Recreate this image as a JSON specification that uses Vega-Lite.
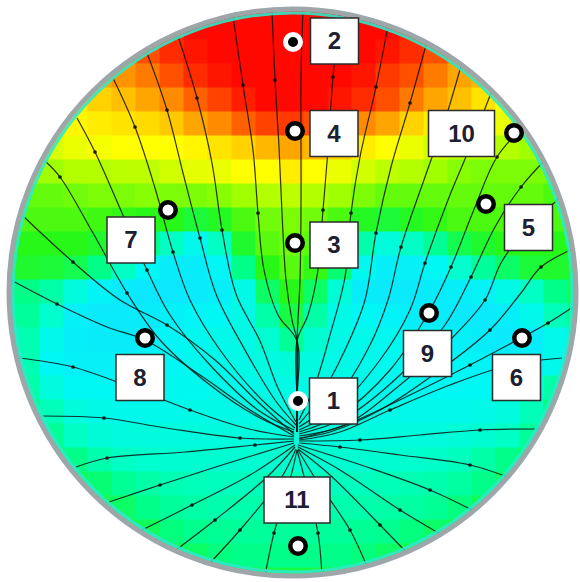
{
"$schema":"https://vega.github.io/schema/vega-lite/v6.json",
"width":580,"height":582,
"autosize":{"type":"none"},
"padding":0,
"background":"white",
"config":{"view":{"stroke":null}},
"datasets":{
"cells":[
{"x":220,"y":4,"v":9},{"x":244,"y":4,"v":9},{"x":268,"y":4,"v":9},{"x":292,"y":4,"v":9},{"x":316,"y":4,"v":9},{"x":340,"y":4,"v":9},{"x":364,"y":4,"v":9},
{"x":148,"y":28,"v":8},{"x":172,"y":28,"v":8.5},{"x":196,"y":28,"v":9},{"x":220,"y":28,"v":9},{"x":244,"y":28,"v":9},{"x":268,"y":28,"v":9},{"x":292,"y":28,"v":9},{"x":316,"y":28,"v":9},{"x":340,"y":28,"v":9},{"x":364,"y":28,"v":9},{"x":388,"y":28,"v":9},{"x":412,"y":28,"v":8.7},{"x":436,"y":28,"v":8.3},
{"x":124,"y":52,"v":7.5},{"x":148,"y":52,"v":8},{"x":172,"y":52,"v":8.5},{"x":196,"y":52,"v":8.8},{"x":220,"y":52,"v":9},{"x":244,"y":52,"v":9},{"x":268,"y":52,"v":9},{"x":292,"y":52,"v":9},{"x":316,"y":52,"v":9},{"x":340,"y":52,"v":9},{"x":364,"y":52,"v":9},{"x":388,"y":52,"v":8.8},{"x":412,"y":52,"v":8.5},{"x":436,"y":52,"v":8},{"x":460,"y":52,"v":7.5},
{"x":100,"y":76,"v":7},{"x":124,"y":76,"v":7.2},{"x":148,"y":76,"v":7.5},{"x":172,"y":76,"v":8},{"x":196,"y":76,"v":8.5},{"x":220,"y":76,"v":8.8},{"x":244,"y":76,"v":9},{"x":268,"y":76,"v":9},{"x":292,"y":76,"v":9},{"x":316,"y":76,"v":9},{"x":340,"y":76,"v":9},{"x":364,"y":76,"v":8.8},{"x":388,"y":76,"v":8.3},{"x":412,"y":76,"v":8},{"x":436,"y":76,"v":7.5},{"x":460,"y":76,"v":7},{"x":484,"y":76,"v":6.8},
{"x":76,"y":100,"v":6.2},{"x":100,"y":100,"v":6.5},{"x":124,"y":100,"v":6.7},{"x":148,"y":100,"v":7},{"x":172,"y":100,"v":7.3},{"x":196,"y":100,"v":7.8},{"x":220,"y":100,"v":8.2},{"x":244,"y":100,"v":8.7},{"x":268,"y":100,"v":9},{"x":292,"y":100,"v":9},{"x":316,"y":100,"v":9},{"x":340,"y":100,"v":8.8},{"x":364,"y":100,"v":8.5},{"x":388,"y":100,"v":8},{"x":412,"y":100,"v":7.5},{"x":436,"y":100,"v":7},{"x":460,"y":100,"v":6.7},{"x":484,"y":100,"v":6.3},{"x":508,"y":100,"v":6},
{"x":52,"y":124,"v":5.8},{"x":76,"y":124,"v":6.1},{"x":100,"y":124,"v":6.2},{"x":124,"y":124,"v":6.3},{"x":148,"y":124,"v":6.4},{"x":172,"y":124,"v":6.6},{"x":196,"y":124,"v":7},{"x":220,"y":124,"v":7.3},{"x":244,"y":124,"v":7.8},{"x":268,"y":124,"v":8.2},{"x":292,"y":124,"v":8.3},{"x":316,"y":124,"v":8},{"x":340,"y":124,"v":7.8},{"x":364,"y":124,"v":7.3},{"x":388,"y":124,"v":7},{"x":412,"y":124,"v":6.5},{"x":436,"y":124,"v":6.2},{"x":460,"y":124,"v":6},{"x":484,"y":124,"v":6},{"x":508,"y":124,"v":5.8},{"x":532,"y":124,"v":5.6},
{"x":28,"y":148,"v":5.2},{"x":52,"y":148,"v":5.6},{"x":76,"y":148,"v":5.8},{"x":100,"y":148,"v":5.9},{"x":124,"y":148,"v":6},{"x":148,"y":148,"v":6},{"x":172,"y":148,"v":6},{"x":196,"y":148,"v":6.1},{"x":220,"y":148,"v":6.3},{"x":244,"y":148,"v":6.5},{"x":268,"y":148,"v":6.8},{"x":292,"y":148,"v":7},{"x":316,"y":148,"v":6.8},{"x":340,"y":148,"v":6.5},{"x":364,"y":148,"v":6.2},{"x":388,"y":148,"v":6},{"x":412,"y":148,"v":5.8},{"x":436,"y":148,"v":5.5},{"x":460,"y":148,"v":5.3},{"x":484,"y":148,"v":5.3},{"x":508,"y":148,"v":5.2},{"x":532,"y":148,"v":5},{"x":556,"y":148,"v":5},
{"x":28,"y":172,"v":5},{"x":52,"y":172,"v":5},{"x":76,"y":172,"v":5.2},{"x":100,"y":172,"v":5.2},{"x":124,"y":172,"v":5.3},{"x":148,"y":172,"v":5.3},{"x":172,"y":172,"v":5.5},{"x":196,"y":172,"v":5.7},{"x":220,"y":172,"v":5.8},{"x":244,"y":172,"v":6},{"x":268,"y":172,"v":6},{"x":292,"y":172,"v":6.2},{"x":316,"y":172,"v":6},{"x":340,"y":172,"v":5.8},{"x":364,"y":172,"v":5.5},{"x":388,"y":172,"v":5.3},{"x":412,"y":172,"v":5.2},{"x":436,"y":172,"v":5},{"x":460,"y":172,"v":4.8},{"x":484,"y":172,"v":4.7},{"x":508,"y":172,"v":4.7},{"x":532,"y":172,"v":4.7},{"x":556,"y":172,"v":4.7},
{"x":28,"y":196,"v":4.5},{"x":52,"y":196,"v":4.5},{"x":76,"y":196,"v":4.6},{"x":100,"y":196,"v":4.7},{"x":124,"y":196,"v":4.7},{"x":148,"y":196,"v":4.8},{"x":172,"y":196,"v":4.7},{"x":196,"y":196,"v":4.7},{"x":220,"y":196,"v":4.8},{"x":244,"y":196,"v":5},{"x":268,"y":196,"v":5.2},{"x":292,"y":196,"v":5.3},{"x":316,"y":196,"v":5.2},{"x":340,"y":196,"v":5},{"x":364,"y":196,"v":4.7},{"x":388,"y":196,"v":4.5},{"x":412,"y":196,"v":4.5},{"x":436,"y":196,"v":4.5},{"x":460,"y":196,"v":4.5},{"x":484,"y":196,"v":4.5},{"x":508,"y":196,"v":4.5},{"x":532,"y":196,"v":4.5},{"x":556,"y":196,"v":4.3},
{"x":4,"y":220,"v":4.3},{"x":28,"y":220,"v":4.3},{"x":52,"y":220,"v":4.3},{"x":76,"y":220,"v":4.3},{"x":100,"y":220,"v":4.2},{"x":124,"y":220,"v":4.1},{"x":148,"y":220,"v":4},{"x":172,"y":220,"v":4},{"x":196,"y":220,"v":3.7},{"x":220,"y":220,"v":3.9},{"x":244,"y":220,"v":4.3},{"x":268,"y":220,"v":4.6},{"x":292,"y":220,"v":4.7},{"x":316,"y":220,"v":4.6},{"x":340,"y":220,"v":4.3},{"x":364,"y":220,"v":3.9},{"x":388,"y":220,"v":3.7},{"x":412,"y":220,"v":3.9},{"x":436,"y":220,"v":4.1},{"x":460,"y":220,"v":4.3},{"x":484,"y":220,"v":4.3},{"x":508,"y":220,"v":4.3},{"x":532,"y":220,"v":4.3},{"x":556,"y":220,"v":4.3},{"x":580,"y":220,"v":4.3},
{"x":4,"y":244,"v":4},{"x":28,"y":244,"v":4},{"x":52,"y":244,"v":4},{"x":76,"y":244,"v":4},{"x":100,"y":244,"v":3.8},{"x":124,"y":244,"v":3.5},{"x":148,"y":244,"v":3},{"x":172,"y":244,"v":2},{"x":196,"y":244,"v":1.2},{"x":220,"y":244,"v":2},{"x":244,"y":244,"v":3.8},{"x":268,"y":244,"v":4.4},{"x":292,"y":244,"v":4.6},{"x":316,"y":244,"v":4.4},{"x":340,"y":244,"v":3.8},{"x":364,"y":244,"v":2.4},{"x":388,"y":244,"v":1.5},{"x":412,"y":244,"v":2},{"x":436,"y":244,"v":2.8},{"x":460,"y":244,"v":3.5},{"x":484,"y":244,"v":3.8},{"x":508,"y":244,"v":4},{"x":532,"y":244,"v":4},{"x":556,"y":244,"v":4},{"x":580,"y":244,"v":4},
{"x":4,"y":268,"v":3.8},{"x":28,"y":268,"v":3.8},{"x":52,"y":268,"v":3.7},{"x":76,"y":268,"v":3.5},{"x":100,"y":268,"v":3},{"x":124,"y":268,"v":2},{"x":148,"y":268,"v":1},{"x":172,"y":268,"v":0.5},{"x":196,"y":268,"v":0.5},{"x":220,"y":268,"v":0.9},{"x":244,"y":268,"v":3},{"x":268,"y":268,"v":4},{"x":292,"y":268,"v":4.4},{"x":316,"y":268,"v":4.1},{"x":340,"y":268,"v":3.2},{"x":364,"y":268,"v":1.1},{"x":388,"y":268,"v":0.6},{"x":412,"y":268,"v":0.7},{"x":436,"y":268,"v":1},{"x":460,"y":268,"v":1.8},{"x":484,"y":268,"v":2.7},{"x":508,"y":268,"v":3.3},{"x":532,"y":268,"v":3.7},{"x":556,"y":268,"v":3.8},{"x":580,"y":268,"v":3.8},
{"x":4,"y":292,"v":3.2},{"x":28,"y":292,"v":3},{"x":52,"y":292,"v":2.5},{"x":76,"y":292,"v":1.5},{"x":100,"y":292,"v":0.8},{"x":124,"y":292,"v":0.5},{"x":148,"y":292,"v":0.3},{"x":172,"y":292,"v":0.3},{"x":196,"y":292,"v":0.4},{"x":220,"y":292,"v":0.6},{"x":244,"y":292,"v":1.3},{"x":268,"y":292,"v":3.3},{"x":292,"y":292,"v":4},{"x":316,"y":292,"v":3.3},{"x":340,"y":292,"v":1.6},{"x":364,"y":292,"v":0.5},{"x":388,"y":292,"v":0.4},{"x":412,"y":292,"v":0.4},{"x":436,"y":292,"v":0.5},{"x":460,"y":292,"v":0.6},{"x":484,"y":292,"v":0.8},{"x":508,"y":292,"v":1.3},{"x":532,"y":292,"v":2},{"x":556,"y":292,"v":3},{"x":580,"y":292,"v":3.5},
{"x":4,"y":316,"v":3},{"x":28,"y":316,"v":2.7},{"x":52,"y":316,"v":1.8},{"x":76,"y":316,"v":0.7},{"x":100,"y":316,"v":0.4},{"x":124,"y":316,"v":0.4},{"x":148,"y":316,"v":0.5},{"x":172,"y":316,"v":0.7},{"x":196,"y":316,"v":0.9},{"x":220,"y":316,"v":1},{"x":244,"y":316,"v":1.3},{"x":268,"y":316,"v":2.5},{"x":292,"y":316,"v":3.6},{"x":316,"y":316,"v":2.5},{"x":340,"y":316,"v":1.3},{"x":364,"y":316,"v":1},{"x":388,"y":316,"v":0.8},{"x":412,"y":316,"v":0.6},{"x":436,"y":316,"v":0.5},{"x":460,"y":316,"v":0.4},{"x":484,"y":316,"v":0.4},{"x":508,"y":316,"v":0.6},{"x":532,"y":316,"v":1.2},{"x":556,"y":316,"v":2.2},{"x":580,"y":316,"v":3},
{"x":4,"y":340,"v":2.8},{"x":28,"y":340,"v":2.3},{"x":52,"y":340,"v":1.2},{"x":76,"y":340,"v":0.6},{"x":100,"y":340,"v":0.5},{"x":124,"y":340,"v":0.5},{"x":148,"y":340,"v":0.7},{"x":172,"y":340,"v":0.9},{"x":196,"y":340,"v":1.1},{"x":220,"y":340,"v":1.2},{"x":244,"y":340,"v":1.3},{"x":268,"y":340,"v":1.7},{"x":292,"y":340,"v":2.8},{"x":316,"y":340,"v":1.7},{"x":340,"y":340,"v":1.3},{"x":364,"y":340,"v":1.2},{"x":388,"y":340,"v":1.1},{"x":412,"y":340,"v":1},{"x":436,"y":340,"v":0.9},{"x":460,"y":340,"v":0.7},{"x":484,"y":340,"v":0.5},{"x":508,"y":340,"v":0.4},{"x":532,"y":340,"v":0.5},{"x":556,"y":340,"v":1.2},{"x":580,"y":340,"v":2.5},
{"x":4,"y":364,"v":2.5},{"x":28,"y":364,"v":2.3},{"x":52,"y":364,"v":1},{"x":76,"y":364,"v":0.7},{"x":100,"y":364,"v":0.7},{"x":124,"y":364,"v":0.8},{"x":148,"y":364,"v":0.9},{"x":172,"y":364,"v":1},{"x":196,"y":364,"v":1.1},{"x":220,"y":364,"v":1.2},{"x":244,"y":364,"v":1.3},{"x":268,"y":364,"v":1.4},{"x":292,"y":364,"v":1.6},{"x":316,"y":364,"v":1.4},{"x":340,"y":364,"v":1.3},{"x":364,"y":364,"v":1.2},{"x":388,"y":364,"v":1.1},{"x":412,"y":364,"v":1},{"x":436,"y":364,"v":1},{"x":460,"y":364,"v":0.9},{"x":484,"y":364,"v":0.8},{"x":508,"y":364,"v":0.7},{"x":532,"y":364,"v":0.7},{"x":556,"y":364,"v":1.2},{"x":580,"y":364,"v":2.3},
{"x":28,"y":388,"v":2.5},{"x":52,"y":388,"v":1.5},{"x":76,"y":388,"v":1},{"x":100,"y":388,"v":1},{"x":124,"y":388,"v":1},{"x":148,"y":388,"v":1},{"x":172,"y":388,"v":1.1},{"x":196,"y":388,"v":1.1},{"x":220,"y":388,"v":1.2},{"x":244,"y":388,"v":1.2},{"x":268,"y":388,"v":1.3},{"x":292,"y":388,"v":1.3},{"x":316,"y":388,"v":1.3},{"x":340,"y":388,"v":1.2},{"x":364,"y":388,"v":1.2},{"x":388,"y":388,"v":1.1},{"x":412,"y":388,"v":1.1},{"x":436,"y":388,"v":1},{"x":460,"y":388,"v":1},{"x":484,"y":388,"v":1},{"x":508,"y":388,"v":1},{"x":532,"y":388,"v":1.5},{"x":556,"y":388,"v":2.5},
{"x":28,"y":412,"v":3},{"x":52,"y":412,"v":2.2},{"x":76,"y":412,"v":1.5},{"x":100,"y":412,"v":1.3},{"x":124,"y":412,"v":1.2},{"x":148,"y":412,"v":1.2},{"x":172,"y":412,"v":1.2},{"x":196,"y":412,"v":1.3},{"x":220,"y":412,"v":1.3},{"x":244,"y":412,"v":1.3},{"x":268,"y":412,"v":1.4},{"x":292,"y":412,"v":1.4},{"x":316,"y":412,"v":1.4},{"x":340,"y":412,"v":1.3},{"x":364,"y":412,"v":1.3},{"x":388,"y":412,"v":1.3},{"x":412,"y":412,"v":1.2},{"x":436,"y":412,"v":1.2},{"x":460,"y":412,"v":1.2},{"x":484,"y":412,"v":1.3},{"x":508,"y":412,"v":1.5},{"x":532,"y":412,"v":2.2},{"x":556,"y":412,"v":3},
{"x":28,"y":436,"v":3.2},{"x":52,"y":436,"v":2.8},{"x":76,"y":436,"v":2},{"x":100,"y":436,"v":1.6},{"x":124,"y":436,"v":1.5},{"x":148,"y":436,"v":1.5},{"x":172,"y":436,"v":1.5},{"x":196,"y":436,"v":1.5},{"x":220,"y":436,"v":1.5},{"x":244,"y":436,"v":1.5},{"x":268,"y":436,"v":1.5},{"x":292,"y":436,"v":1.5},{"x":316,"y":436,"v":1.5},{"x":340,"y":436,"v":1.5},{"x":364,"y":436,"v":1.5},{"x":388,"y":436,"v":1.5},{"x":412,"y":436,"v":1.5},{"x":436,"y":436,"v":1.5},{"x":460,"y":436,"v":1.6},{"x":484,"y":436,"v":1.7},{"x":508,"y":436,"v":2},{"x":532,"y":436,"v":2.7},{"x":556,"y":436,"v":3.2},
{"x":52,"y":460,"v":3.3},{"x":76,"y":460,"v":3},{"x":100,"y":460,"v":2.4},{"x":124,"y":460,"v":2},{"x":148,"y":460,"v":1.8},{"x":172,"y":460,"v":1.7},{"x":196,"y":460,"v":1.7},{"x":220,"y":460,"v":1.7},{"x":244,"y":460,"v":1.7},{"x":268,"y":460,"v":1.7},{"x":292,"y":460,"v":1.7},{"x":316,"y":460,"v":1.7},{"x":340,"y":460,"v":1.7},{"x":364,"y":460,"v":1.7},{"x":388,"y":460,"v":1.7},{"x":412,"y":460,"v":1.8},{"x":436,"y":460,"v":1.9},{"x":460,"y":460,"v":2.1},{"x":484,"y":460,"v":2.5},{"x":508,"y":460,"v":3},{"x":532,"y":460,"v":3.3},
{"x":76,"y":484,"v":3.4},{"x":100,"y":484,"v":3.2},{"x":124,"y":484,"v":2.8},{"x":148,"y":484,"v":2.5},{"x":172,"y":484,"v":2.3},{"x":196,"y":484,"v":2.2},{"x":220,"y":484,"v":2.1},{"x":244,"y":484,"v":2.1},{"x":268,"y":484,"v":2.1},{"x":292,"y":484,"v":2.1},{"x":316,"y":484,"v":2.1},{"x":340,"y":484,"v":2.1},{"x":364,"y":484,"v":2.1},{"x":388,"y":484,"v":2.2},{"x":412,"y":484,"v":2.3},{"x":436,"y":484,"v":2.4},{"x":460,"y":484,"v":2.6},{"x":484,"y":484,"v":3},{"x":508,"y":484,"v":3.3},
{"x":100,"y":508,"v":3.5},{"x":124,"y":508,"v":3.3},{"x":148,"y":508,"v":3},{"x":172,"y":508,"v":2.7},{"x":196,"y":508,"v":2.5},{"x":220,"y":508,"v":2.4},{"x":244,"y":508,"v":2.4},{"x":268,"y":508,"v":2.4},{"x":292,"y":508,"v":2.4},{"x":316,"y":508,"v":2.4},{"x":340,"y":508,"v":2.4},{"x":364,"y":508,"v":2.4},{"x":388,"y":508,"v":2.5},{"x":412,"y":508,"v":2.6},{"x":436,"y":508,"v":2.8},{"x":460,"y":508,"v":3.1},{"x":484,"y":508,"v":3.4},
{"x":124,"y":532,"v":3.6},{"x":148,"y":532,"v":3.4},{"x":172,"y":532,"v":3.1},{"x":196,"y":532,"v":2.9},{"x":220,"y":532,"v":2.8},{"x":244,"y":532,"v":2.7},{"x":268,"y":532,"v":2.7},{"x":292,"y":532,"v":2.7},{"x":316,"y":532,"v":2.7},{"x":340,"y":532,"v":2.7},{"x":364,"y":532,"v":2.8},{"x":388,"y":532,"v":2.9},{"x":412,"y":532,"v":3.1},{"x":436,"y":532,"v":3.3},{"x":460,"y":532,"v":3.6},
{"x":148,"y":556,"v":3.8},{"x":172,"y":556,"v":3.5},{"x":196,"y":556,"v":3.3},{"x":220,"y":556,"v":3.1},{"x":244,"y":556,"v":3},{"x":268,"y":556,"v":3},{"x":292,"y":556,"v":3},{"x":316,"y":556,"v":3},{"x":340,"y":556,"v":3},{"x":364,"y":556,"v":3.1},{"x":388,"y":556,"v":3.3},{"x":412,"y":556,"v":3.5},{"x":436,"y":556,"v":3.8},
{"x":220,"y":580,"v":3.6},{"x":244,"y":580,"v":3.6},{"x":268,"y":580,"v":3.6},{"x":292,"y":580,"v":3.6},{"x":316,"y":580,"v":3.6},{"x":340,"y":580,"v":3.6},{"x":364,"y":580,"v":3.6}
],
"lines":[
{"s":"K1","i":0,"x":272,"y":10},{"s":"K1","i":1,"x":275,"y":80},{"s":"K1","i":2,"x":279,"y":147},{"s":"K1","i":3,"x":282,"y":213},{"s":"K1","i":4,"x":286,"y":280},{"s":"K1","i":5,"x":292,"y":320},{"s":"K1","i":6,"x":297,"y":341},{"s":"K1","i":7,"x":297,"y":400},{"s":"K1","i":8,"x":297,"y":432},
{"s":"K2","i":0,"x":233,"y":16},{"s":"K2","i":1,"x":243,"y":85},{"s":"K2","i":2,"x":253,"y":150},{"s":"K2","i":3,"x":258,"y":213},{"s":"K2","i":4,"x":264,"y":270},{"s":"K2","i":5,"x":278,"y":315},{"s":"K2","i":6,"x":297,"y":341},{"s":"K2","i":7,"x":297,"y":400},{"s":"K2","i":8,"x":297,"y":432},
{"s":"K3","i":0,"x":303,"y":9},{"s":"K3","i":1,"x":301,"y":77},{"s":"K3","i":2,"x":301,"y":150},{"s":"K3","i":3,"x":301,"y":210},{"s":"K3","i":4,"x":300,"y":280},{"s":"K3","i":5,"x":298,"y":320},{"s":"K3","i":6,"x":297,"y":341},{"s":"K3","i":7,"x":297,"y":400},{"s":"K3","i":8,"x":297,"y":432},
{"s":"K4","i":0,"x":340,"y":13},{"s":"K4","i":1,"x":333,"y":77},{"s":"K4","i":2,"x":328,"y":150},{"s":"K4","i":3,"x":323,"y":210},{"s":"K4","i":4,"x":318,"y":270},{"s":"K4","i":5,"x":308,"y":315},{"s":"K4","i":6,"x":297,"y":341},{"s":"K4","i":7,"x":297,"y":400},{"s":"K4","i":8,"x":297,"y":432},
{"s":"L3","i":0,"x":178,"y":36},{"s":"L3","i":1,"x":197,"y":98},{"s":"L3","i":2,"x":212,"y":163},{"s":"L3","i":3,"x":222,"y":230},{"s":"L3","i":4,"x":236,"y":294},{"s":"L3","i":5,"x":260,"y":341},{"s":"L3","i":6,"x":278,"y":388},{"s":"L3","i":7,"x":296,"y":422},
{"s":"L4","i":0,"x":147,"y":53},{"s":"L4","i":1,"x":167,"y":110},{"s":"L4","i":2,"x":183,"y":173},{"s":"L4","i":3,"x":200,"y":238},{"s":"L4","i":4,"x":216,"y":294},{"s":"L4","i":5,"x":245,"y":350},{"s":"L4","i":6,"x":275,"y":400},{"s":"L4","i":7,"x":296,"y":425},
{"s":"L5","i":0,"x":113,"y":78},{"s":"L5","i":1,"x":135,"y":127},{"s":"L5","i":2,"x":155,"y":188},{"s":"L5","i":3,"x":173,"y":252},{"s":"L5","i":4,"x":190,"y":300},{"s":"L5","i":5,"x":220,"y":350},{"s":"L5","i":6,"x":262,"y":400},{"s":"L5","i":7,"x":295,"y":428},
{"s":"L6","i":0,"x":77,"y":118},{"s":"L6","i":1,"x":95,"y":152},{"s":"L6","i":2,"x":122,"y":213},{"s":"L6","i":3,"x":147,"y":270},{"s":"L6","i":4,"x":170,"y":315},{"s":"L6","i":5,"x":210,"y":365},{"s":"L6","i":6,"x":258,"y":410},{"s":"L6","i":7,"x":294,"y":430},
{"s":"L7","i":0,"x":45,"y":161},{"s":"L7","i":1,"x":60,"y":177},{"s":"L7","i":2,"x":93,"y":233},{"s":"L7","i":3,"x":127,"y":293},{"s":"L7","i":4,"x":160,"y":340},{"s":"L7","i":5,"x":210,"y":385},{"s":"L7","i":6,"x":260,"y":418},{"s":"L7","i":7,"x":294,"y":432},
{"s":"L8","i":0,"x":23,"y":216},{"s":"L8","i":1,"x":73,"y":262},{"s":"L8","i":2,"x":120,"y":300},{"s":"L8","i":3,"x":167,"y":325},{"s":"L8","i":4,"x":215,"y":360},{"s":"L8","i":5,"x":258,"y":402},{"s":"L8","i":6,"x":294,"y":434},
{"s":"L9","i":0,"x":11,"y":280},{"s":"L9","i":1,"x":57,"y":304},{"s":"L9","i":2,"x":107,"y":327},{"s":"L9","i":3,"x":145,"y":340},{"s":"L9","i":4,"x":200,"y":375},{"s":"L9","i":5,"x":250,"y":410},{"s":"L9","i":6,"x":294,"y":436},
{"s":"La","i":0,"x":19,"y":358},{"s":"La","i":1,"x":73,"y":367},{"s":"La","i":2,"x":133,"y":388},{"s":"La","i":3,"x":190,"y":410},{"s":"La","i":4,"x":245,"y":428},{"s":"La","i":5,"x":294,"y":437},
{"s":"Lb","i":0,"x":42,"y":416},{"s":"Lb","i":1,"x":104,"y":418},{"s":"Lb","i":2,"x":166,"y":428},{"s":"Lb","i":3,"x":240,"y":438},{"s":"Lb","i":4,"x":294,"y":439},
{"s":"Lc","i":0,"x":76,"y":467},{"s":"Lc","i":1,"x":107,"y":458},{"s":"Lc","i":2,"x":185,"y":452},{"s":"Lc","i":3,"x":255,"y":445},{"s":"Lc","i":4,"x":294,"y":441},
{"s":"Ld","i":0,"x":109,"y":502},{"s":"Ld","i":1,"x":160,"y":485},{"s":"Ld","i":2,"x":222,"y":465},{"s":"Ld","i":3,"x":294,"y":443},
{"s":"Le","i":0,"x":142,"y":530},{"s":"Le","i":1,"x":192,"y":505},{"s":"Le","i":2,"x":250,"y":475},{"s":"Le","i":3,"x":295,"y":445},
{"s":"Lf","i":0,"x":176,"y":550},{"s":"Lf","i":1,"x":215,"y":520},{"s":"Lf","i":2,"x":266,"y":478},{"s":"Lf","i":3,"x":295,"y":447},
{"s":"Lg","i":0,"x":209,"y":564},{"s":"Lg","i":1,"x":240,"y":530},{"s":"Lg","i":2,"x":280,"y":480},{"s":"Lg","i":3,"x":296,"y":449},
{"s":"Lh","i":0,"x":265,"y":576},{"s":"Lh","i":1,"x":274,"y":533},{"s":"Lh","i":2,"x":290,"y":480},{"s":"Lh","i":3,"x":297,"y":450},
{"s":"R3","i":0,"x":388,"y":26},{"s":"R3","i":1,"x":376,"y":87},{"s":"R3","i":2,"x":360,"y":157},{"s":"R3","i":3,"x":351,"y":213},{"s":"R3","i":4,"x":345,"y":277},{"s":"R3","i":5,"x":330,"y":335},{"s":"R3","i":6,"x":315,"y":385},{"s":"R3","i":7,"x":299,"y":420},
{"s":"R4","i":0,"x":426,"y":45},{"s":"R4","i":1,"x":410,"y":103},{"s":"R4","i":2,"x":391,"y":167},{"s":"R4","i":3,"x":376,"y":233},{"s":"R4","i":4,"x":365,"y":300},{"s":"R4","i":5,"x":345,"y":350},{"s":"R4","i":6,"x":318,"y":400},{"s":"R4","i":7,"x":299,"y":424},
{"s":"R5","i":0,"x":461,"y":66},{"s":"R5","i":1,"x":445,"y":120},{"s":"R5","i":2,"x":425,"y":177},{"s":"R5","i":3,"x":401,"y":247},{"s":"R5","i":4,"x":388,"y":300},{"s":"R5","i":5,"x":370,"y":345},{"s":"R5","i":6,"x":335,"y":400},{"s":"R5","i":7,"x":299,"y":427},
{"s":"R6","i":0,"x":491,"y":93},{"s":"R6","i":1,"x":470,"y":147},{"s":"R6","i":2,"x":448,"y":200},{"s":"R6","i":3,"x":425,"y":263},{"s":"R6","i":4,"x":410,"y":310},{"s":"R6","i":5,"x":380,"y":360},{"s":"R6","i":6,"x":335,"y":410},{"s":"R6","i":7,"x":299,"y":430},
{"s":"R7","i":0,"x":530,"y":120},{"s":"R7","i":1,"x":497,"y":157},{"s":"R7","i":2,"x":475,"y":207},{"s":"R7","i":3,"x":451,"y":267},{"s":"R7","i":4,"x":430,"y":310},{"s":"R7","i":5,"x":390,"y":370},{"s":"R7","i":6,"x":340,"y":415},{"s":"R7","i":7,"x":299,"y":432},
{"s":"R8","i":0,"x":547,"y":158},{"s":"R8","i":1,"x":521,"y":187},{"s":"R8","i":2,"x":495,"y":227},{"s":"R8","i":3,"x":471,"y":277},{"s":"R8","i":4,"x":445,"y":325},{"s":"R8","i":5,"x":400,"y":375},{"s":"R8","i":6,"x":345,"y":418},{"s":"R8","i":7,"x":299,"y":434},
{"s":"R9","i":0,"x":560,"y":198},{"s":"R9","i":1,"x":528,"y":227},{"s":"R9","i":2,"x":501,"y":263},{"s":"R9","i":3,"x":485,"y":300},{"s":"R9","i":4,"x":450,"y":340},{"s":"R9","i":5,"x":400,"y":385},{"s":"R9","i":6,"x":345,"y":425},{"s":"R9","i":7,"x":299,"y":436},
{"s":"R10","i":0,"x":577,"y":247},{"s":"R10","i":1,"x":541,"y":267},{"s":"R10","i":2,"x":521,"y":293},{"s":"R10","i":3,"x":490,"y":330},{"s":"R10","i":4,"x":440,"y":370},{"s":"R10","i":5,"x":380,"y":410},{"s":"R10","i":6,"x":330,"y":432},{"s":"R10","i":7,"x":299,"y":438},
{"s":"Ra","i":0,"x":573,"y":307},{"s":"Ra","i":1,"x":548,"y":323},{"s":"Ra","i":2,"x":521,"y":338},{"s":"Ra","i":3,"x":470,"y":365},{"s":"Ra","i":4,"x":410,"y":395},{"s":"Ra","i":5,"x":350,"y":423},{"s":"Ra","i":6,"x":299,"y":439},
{"s":"Rb","i":0,"x":562,"y":358},{"s":"Rb","i":1,"x":510,"y":365},{"s":"Rb","i":2,"x":450,"y":385},{"s":"Rb","i":3,"x":390,"y":410},{"s":"Rb","i":4,"x":340,"y":432},{"s":"Rb","i":5,"x":299,"y":440},
{"s":"Rc","i":0,"x":546,"y":429},{"s":"Rc","i":1,"x":480,"y":430},{"s":"Rc","i":2,"x":420,"y":435},{"s":"Rc","i":3,"x":360,"y":440},{"s":"Rc","i":4,"x":299,"y":441},
{"s":"Rd","i":0,"x":513,"y":479},{"s":"Rd","i":1,"x":470,"y":465},{"s":"Rd","i":2,"x":400,"y":455},{"s":"Rd","i":3,"x":340,"y":447},{"s":"Rd","i":4,"x":299,"y":443},
{"s":"Re","i":0,"x":476,"y":512},{"s":"Re","i":1,"x":430,"y":490},{"s":"Re","i":2,"x":370,"y":468},{"s":"Re","i":3,"x":298,"y":445},
{"s":"Rf","i":0,"x":442,"y":535},{"s":"Rf","i":1,"x":400,"y":510},{"s":"Rf","i":2,"x":340,"y":470},{"s":"Rf","i":3,"x":298,"y":447},
{"s":"Rg","i":0,"x":409,"y":555},{"s":"Rg","i":1,"x":380,"y":525},{"s":"Rg","i":2,"x":330,"y":475},{"s":"Rg","i":3,"x":298,"y":449},
{"s":"Rh","i":0,"x":368,"y":569},{"s":"Rh","i":1,"x":350,"y":530},{"s":"Rh","i":2,"x":315,"y":478},{"s":"Rh","i":3,"x":298,"y":450},
{"s":"Ri","i":0,"x":322,"y":576},{"s":"Ri","i":1,"x":318,"y":533},{"s":"Ri","i":2,"x":305,"y":480},{"s":"Ri","i":3,"x":297,"y":450}
],
"pts":[
{"id":"1","x":298,"y":401,"lx":333.5,"ly":401},
{"id":"2","x":293,"y":42,"lx":334.5,"ly":41},
{"id":"3","x":295,"y":243,"lx":334,"ly":245},
{"id":"4","x":295,"y":131,"lx":334,"ly":133.5},
{"id":"5","x":486,"y":204,"lx":528.5,"ly":227.5},
{"id":"6","x":522,"y":338,"lx":516.5,"ly":377.5},
{"id":"7","x":168,"y":210,"lx":131,"ly":240},
{"id":"8","x":145,"y":338,"lx":140,"ly":377.5},
{"id":"9","x":429,"y":313,"lx":427.5,"ly":353.5},
{"id":"10","x":514,"y":133,"lx":461.5,"ly":133.5},
{"id":"11","x":298,"y":546,"lx":297,"ly":500}
],
"frame":[{"x":292.5,"y":292.5}]
},
"encoding":{
"x":{"field":"x","type":"quantitative","scale":{"domain":[0,580],"nice":false,"zero":false},"axis":null},
"y":{"field":"y","type":"quantitative","scale":{"domain":[0,582],"nice":false,"zero":false,"reverse":true},"axis":null}
},
"layer":[
{"data":{"name":"cells"},"mark":{"type":"square","size":625,"opacity":1,"strokeWidth":0},
 "encoding":{"color":{"field":"v","type":"quantitative","legend":null,
 "scale":{"domain":[0,1,2,3,4,5,6,7,8,9],"range":["#10e0ff","#00f8f4","#00ffc4","#00ff88","#28f818","#a0ff00","#ffff00","#ffa500","#ff5000","#ff0800"],"interpolate":"rgb"}}}},
{"data":{"name":"lines"},"mark":{"type":"line","interpolate":"catmull-rom","color":"#111111","strokeWidth":1.2,"opacity":0.85},
 "encoding":{"detail":{"field":"s","type":"nominal"},"order":{"field":"i","type":"quantitative"}}},
{"data":{"name":"lines"},"transform":[{"filter":"(datum.i == 1 || datum.i == 3) && abs(datum.x - 297) > 20"}],
 "mark":{"type":"point","shape":"circle","filled":true,"color":"#111111","size":14,"opacity":0.9}},
{"data":{"name":"frame"},"mark":{"type":"point","shape":"circle","filled":false,"fill":null,"stroke":"#30e8c8","strokeWidth":3,"size":312481,"opacity":1,"strokeOpacity":0.9}},
{"data":{"name":"frame"},"mark":{"type":"point","shape":"circle","filled":false,"fill":null,"stroke":"white","strokeWidth":180,"size":562500,"opacity":1,"strokeOpacity":1}},
{"data":{"name":"frame"},"mark":{"type":"point","shape":"circle","filled":false,"fill":null,"stroke":"#9ea6aa","strokeWidth":5,"size":321489,"opacity":1,"strokeOpacity":1}},
{"data":{"name":"pts"},"transform":[{"filter":"datum.id != '1' && datum.id != '2'"}],
 "mark":{"type":"point","shape":"circle","filled":true,"fill":"white","stroke":"black","strokeWidth":4.5,"size":240,"opacity":1,"fillOpacity":1,"strokeOpacity":1}},
{"data":{"name":"pts"},"transform":[{"filter":"datum.id == '1' || datum.id == '2'"}],
 "mark":{"type":"point","shape":"circle","filled":true,"fill":"black","stroke":"white","strokeWidth":5,"size":225,"opacity":1,"fillOpacity":1,"strokeOpacity":1}},
{"data":{"name":"pts"},"transform":[{"filter":"length(datum.id) == 1"}],
 "mark":{"type":"rect","width":48,"height":46,"fill":"white","stroke":"#2b2b2b","strokeWidth":1.5},
 "encoding":{"x":{"field":"lx","type":"quantitative","scale":{"domain":[0,580],"nice":false,"zero":false},"axis":null},"y":{"field":"ly","type":"quantitative","scale":{"domain":[0,582],"nice":false,"zero":false,"reverse":true},"axis":null}}},
{"data":{"name":"pts"},"transform":[{"filter":"length(datum.id) == 2"}],
 "mark":{"type":"rect","width":66,"height":46,"fill":"white","stroke":"#2b2b2b","strokeWidth":1.5},
 "encoding":{"x":{"field":"lx","type":"quantitative","scale":{"domain":[0,580],"nice":false,"zero":false},"axis":null},"y":{"field":"ly","type":"quantitative","scale":{"domain":[0,582],"nice":false,"zero":false,"reverse":true},"axis":null}}},
{"data":{"name":"pts"},
 "mark":{"type":"text","font":"Liberation Sans","fontSize":24,"fontWeight":"bold","color":"#1c2030","align":"center","baseline":"middle","dy":1},
 "encoding":{"x":{"field":"lx","type":"quantitative","scale":{"domain":[0,580],"nice":false,"zero":false},"axis":null},"y":{"field":"ly","type":"quantitative","scale":{"domain":[0,582],"nice":false,"zero":false,"reverse":true},"axis":null},"text":{"field":"id","type":"nominal"}}}
]
}
